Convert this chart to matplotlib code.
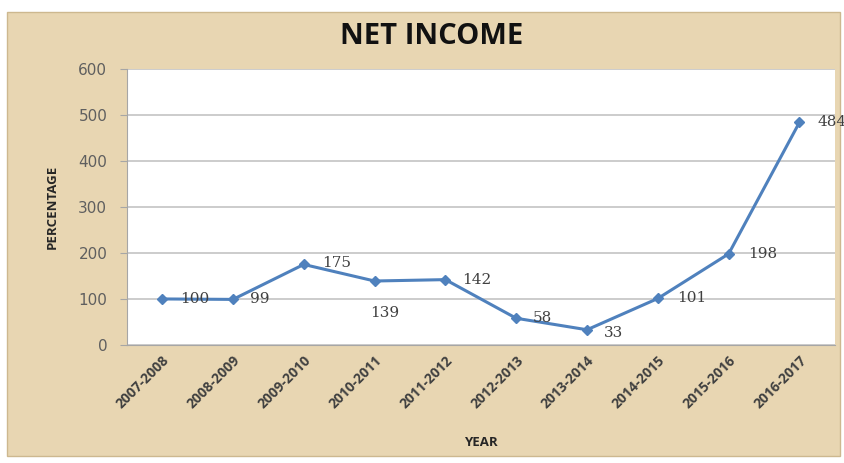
import matplotlib
matplotlib.use("Agg")
import matplotlib.pyplot as plt
from matplotlib.patches import Rectangle

years = ["2007-2008", "2008-2009", "2009-2010", "2010-2011", "2011-2012",
         "2012-2013", "2013-2014", "2014-2015", "2015-2016", "2016-2017"]
net_income = [100, 99, 175, 139, 142, 58, 33, 101, 198, 484]
# label offsets in points (dx, dy)
label_offsets = [(13, 0), (12, 0), (13, 1), (-3, -23), (12, 0),
                 (12, 0), (12, -2), (14, 0), (14, 0), (13, 0)]

fig = plt.figure(figsize=(8.45, 4.63), dpi=100)
fig.patch.set_facecolor("white")
fig.patches.append(Rectangle((0.008, 0.015), 0.986, 0.959, transform=fig.transFigure,
                             facecolor="#E8D6B2", edgecolor="#CDB88F", lw=1, zorder=-5))

ax = fig.add_axes([0.150, 0.255, 0.838, 0.596])
ax.set_zorder(2)
ax.set_facecolor("white")

x = range(len(years))
ax.plot(x, net_income, color="#4F81BD", lw=2.2, marker="D", markersize=5.5,
        markerfacecolor="#4F81BD", markeredgecolor="#4F81BD", zorder=3)

for i, v in enumerate(net_income):
    dx, dy = label_offsets[i]
    ax.annotate(str(v), (i, v), xytext=(dx, dy), textcoords="offset points",
                ha="left", va="center", fontsize=11, color="#404040",
                family="DejaVu Serif", annotation_clip=False, zorder=4)

ax.set_xlim(-0.5, 9.5)
ax.set_ylim(0, 600)
ax.set_yticks(range(0, 601, 100))
ax.grid(axis="y", color="#C8C8C8", lw=1.3)
ax.set_axisbelow(True)

for s in ["top", "right"]:
    ax.spines[s].set_visible(False)
ax.spines["left"].set_color("#A6A6A6")
ax.spines["bottom"].set_color("#A6A6A6")

ax.set_xticks(list(x))
ax.set_xticklabels(years, rotation=45, ha="right", rotation_mode="anchor",
                   fontsize=10, fontweight="bold", color="#404040", family="Open Sans")
ax.tick_params(axis="x", length=0, pad=6)
ax.tick_params(axis="y", length=5, color="#A6A6A6", pad=9, labelsize=11,
               labelcolor="#5F5F5F")
for t in ax.get_yticklabels():
    t.set_family("DejaVu Sans")

ax.set_ylabel("PERCENTAGE", fontsize=9.5, fontweight="bold", family="Open Sans",
              color="#262626", labelpad=14)
ax.set_xlabel("YEAR", fontsize=9.5, fontweight="bold", family="Open Sans",
              color="#262626", labelpad=18)

fig.text(0.511, 0.922, "NET INCOME", ha="center", va="center", fontsize=21,
         fontweight="bold", family="Open Sans", color="#111111")

fig.savefig("out.png", dpi=100, facecolor=fig.get_facecolor())
